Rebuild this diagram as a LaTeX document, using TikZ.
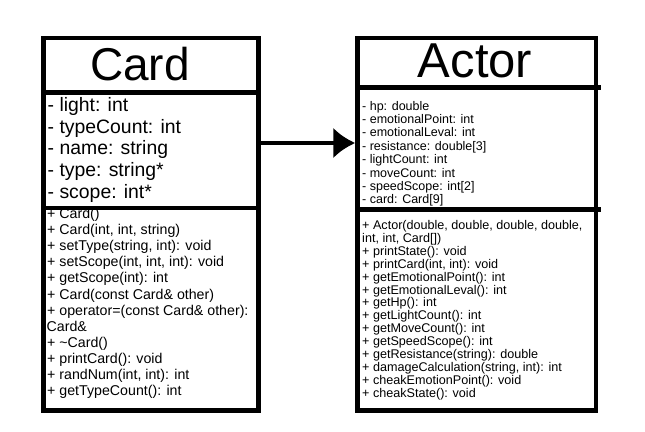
\documentclass[tikz,border=0pt]{standalone}
\usepackage{fontspec}
\setmainfont{Liberation Sans}
\usetikzlibrary{arrows.meta}
\tikzset{
  classbox/.style={draw=black, line width=4.5pt, fill=white, inner sep=0pt},
  divider/.style={draw=black, line width=4.5pt},
  title/.style={anchor=base, inner sep=0pt},
  cattr/.style={anchor=base west, inner sep=0pt, font=\fontsize{19.4}{22}\selectfont},
  cmeth/.style={anchor=base west, inner sep=0pt, font=\fontsize{14.2}{16}\selectfont},
  aattr/.style={anchor=base west, inner sep=0pt, font=\fontsize{12.5}{13}\selectfont},
  ameth/.style={anchor=base west, inner sep=0pt, font=\fontsize{12.6}{12}\selectfont},
  assoc/.style={draw=black, line width=4pt, -{Latex[length=22pt,width=31pt]}},
}
\begin{document}
\begin{tikzpicture}[x=1pt,y=-1pt]
\useasboundingbox[fill=white] (0,0) rectangle (645,431);
% boxes
\node[classbox, minimum width=215pt, minimum height=372.5pt] (card) at (151,224.25) {};
\node[classbox, minimum width=238.5pt, minimum height=372.5pt] (actor) at (476.75,224.25) {};
% dividers
\draw[divider] (41.25,92.5) -- (260.75,92.5);
\draw[divider] (41.25,208) -- (260.75,208);
\draw[divider] (355.25,87.5) -- (601,87.5);
\draw[divider] (355.25,209.5) -- (601,209.5);
% titles
\node[title, font=\fontsize{46}{50}\selectfont] (cardtitle) at (140,80) {Card};
\node[title, font=\fontsize{49}{54}\selectfont] (actortitle) at (475,77) {Actor};
% Card attributes
\node[cattr] (ca1) at (47.5,111.5) {- light: int};
\node[cattr] (ca2) at (47.5,133.2) {- typeCount: int};
\node[cattr] (ca3) at (47.5,154.9) {- name: string};
\node[cattr] (ca4) at (47.5,176.6) {- type: string*};
\node[cattr] (ca5) at (47.5,198.3) {- scope: int*};
% Card methods
\node[cmeth] (cm1) at (47,218.5) {+ Card()};
\node[cmeth] (cm2) at (47,234.6) {+ Card(int, int, string)};
\node[cmeth] (cm3) at (47,250.7) {+ setType(string, int): void};
\node[cmeth] (cm4) at (47,266.8) {+ setScope(int, int, int): void};
\node[cmeth] (cm5) at (47,282.9) {+ getScope(int): int};
\node[cmeth] (cm6) at (47,299.0) {+ Card(const Card\& other)};
\node[cmeth] (cm7) at (47,315.1) {+ operator=(const Card\& other):};
\node[cmeth] (cm8) at (46.5,331.2) {Card\&};
\node[cmeth] (cm9) at (47,347.3) {+ \textasciitilde Card()};
\node[cmeth] (cm10) at (47,363.4) {+ printCard(): void};
\node[cmeth] (cm11) at (47,379.5) {+ randNum(int, int): int};
\node[cmeth] (cm12) at (47,395.6) {+ getTypeCount(): int};
% Actor attributes
\node[aattr] (aa1) at (362,110) {- hp: double};
\node[aattr] (aa2) at (362,123.4) {- emotionalPoint: int};
\node[aattr] (aa3) at (362,136.8) {- emotionalLeval: int};
\node[aattr] (aa4) at (362,150.2) {- resistance: double[3]};
\node[aattr] (aa5) at (362,163.6) {- lightCount: int};
\node[aattr] (aa6) at (362,177.0) {- moveCount: int};
\node[aattr] (aa7) at (362,190.4) {- speedScope: int[2]};
\node[aattr] (aa8) at (362,203.8) {- card: Card[9]};
% Actor methods
\node[ameth] (am1) at (362,229.5) {+ Actor(double, double, double, double,};
\node[ameth] (am2) at (362,242.4) {int, int, Card[])};
\node[ameth] (am3) at (362,255.3) {+ printState(): void};
\node[ameth] (am4) at (362,268.2) {+ printCard(int, int): void};
\node[ameth] (am5) at (362,281.1) {+ getEmotionalPoint(): int};
\node[ameth] (am6) at (362,294.0) {+ getEmotionalLeval(): int};
\node[ameth] (am7) at (362,306.9) {+ getHp(): int};
\node[ameth] (am8) at (362,319.8) {+ getLightCount(): int};
\node[ameth] (am9) at (362,332.7) {+ getMoveCount(): int};
\node[ameth] (am10) at (362,345.6) {+ getSpeedScope(): int};
\node[ameth] (am11) at (362,358.5) {+ getResistance(string): double};
\node[ameth] (am12) at (362,371.4) {+ damageCalculation(string, int): int};
\node[ameth] (am13) at (362,384.3) {+ cheakEmotionPoint(): void};
\node[ameth] (am14) at (362,397.2) {+ cheakState(): void};
% association arrow
\coordinate (arrowy) at (0,143);
\draw[assoc] (card.east |- arrowy) -- (actor.west |- arrowy);
\end{tikzpicture}
\end{document}
